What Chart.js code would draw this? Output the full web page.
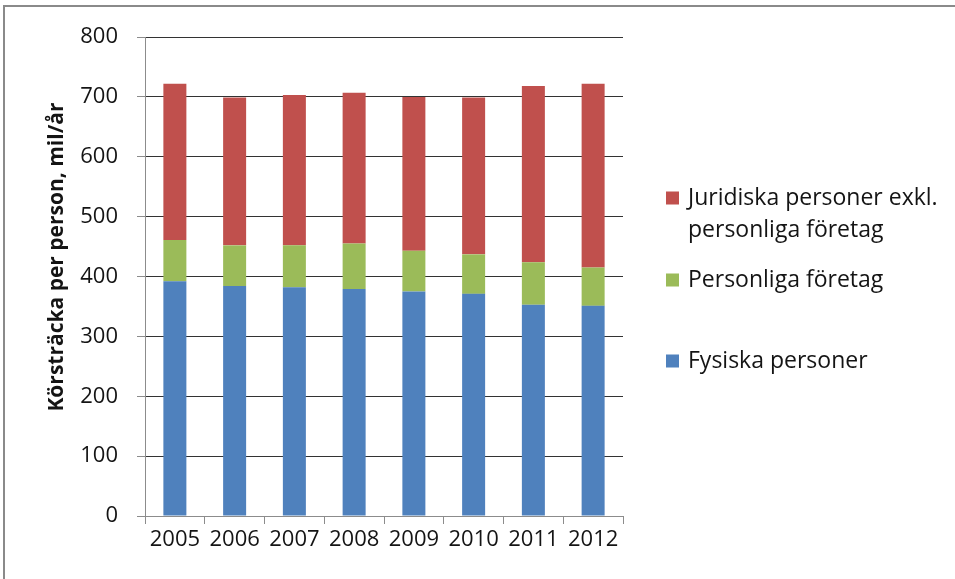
<!DOCTYPE html>
<html>
<head>
<meta charset="utf-8">
<script src="https://cdn.jsdelivr.net/npm/chart.js@4.4.0/dist/chart.umd.min.js"></script>
<style>
  html, body { margin: 0; padding: 0; background: #fff; }
  #wrap { width: 955px; height: 579px; position: relative; }
</style>
</head>
<body>
<div id="wrap"><canvas id="chart" width="955" height="579"></canvas></div>
<script>
// data
const years = ['2005', '2006', '2007', '2008', '2009', '2010', '2011', '2012'];
const fysiska = [392, 384, 382, 379, 375, 371, 353, 351];
const personliga = [69, 68, 70, 76, 68, 66, 71, 64];
const juridiska = [261, 247, 251, 252, 257, 262, 294, 307];
const seriesNames = ['Fysiska personer', 'Personliga företag', 'Juridiska personer exkl. personliga företag'];
const yTicks = [0, 100, 200, 300, 400, 500, 600, 700, 800];
const yTitle = 'Körsträcka per person, mil/år';

const FONT = '"Open Sans", "Liberation Sans", sans-serif';
const TEXT = '#141414';
const AXIS_GREY = '#8c8c8c';

// frame around the picture + white background
const framePlugin = {
  id: 'frame',
  beforeDraw(chart) {
    const ctx = chart.ctx;
    ctx.save();
    ctx.fillStyle = '#fff';
    ctx.fillRect(0, 0, chart.width, chart.height);
    ctx.strokeStyle = '#8a8a8a';
    ctx.lineWidth = 2;
    ctx.beginPath();
    ctx.moveTo(4, chart.height);
    ctx.lineTo(4, 6);
    ctx.lineTo(chart.width, 6);
    ctx.stroke();
    ctx.restore();
  }
};

// y axis title, placed like in the original
const titlePlugin = {
  id: 'ytitle',
  afterDraw(chart) {
    const ctx = chart.ctx;
    ctx.save();
    ctx.translate(57, 257);
    ctx.rotate(-Math.PI / 2);
    ctx.font = 'bold 21px ' + FONT;
    ctx.fillStyle = TEXT;
    ctx.textAlign = 'center';
    ctx.textBaseline = 'middle';
    ctx.fillText(yTitle, 0, 0);
    ctx.restore();
  }
};

// legend on the right, top entry first, wrapped text
const legendPlugin = {
  id: 'sideLegend',
  afterDraw(chart) {
    const ctx = chart.ctx;
    const rows = [198, 280, 361];
    const sets = chart.data.datasets.slice().reverse();
    ctx.save();
    ctx.font = '23px ' + FONT;
    ctx.textBaseline = 'middle';
    ctx.textAlign = 'left';
    sets.forEach((ds, i) => {
      const y = rows[i];
      ctx.fillStyle = ds.backgroundColor;
      ctx.fillRect(666, y - 6.5, 13, 13);
      // simple word wrap
      const words = ds.label.split(' ');
      const lines = [];
      let line = '';
      words.forEach(w => {
        const test = line ? line + ' ' + w : w;
        if (ctx.measureText(test).width > 265 && line) {
          lines.push(line);
          line = w;
        } else {
          line = test;
        }
      });
      lines.push(line);
      ctx.fillStyle = TEXT;
      lines.forEach((l, k) => ctx.fillText(l, 688, y + k * 32));
    });
    ctx.restore();
  }
};

new Chart(document.getElementById('chart'), {
  type: 'bar',
  data: {
    labels: years,
    datasets: [
      { label: seriesNames[0], data: fysiska, backgroundColor: '#4F81BD' },
      { label: seriesNames[1], data: personliga, backgroundColor: '#9BBB59' },
      { label: seriesNames[2], data: juridiska, backgroundColor: '#C0504D' }
    ]
  },
  options: {
    responsive: false,
    animation: false,
    layout: { padding: { top: 37, right: 332, bottom: 0, left: 0 } },
    datasets: {
      bar: { barPercentage: 0.385, categoryPercentage: 1, borderWidth: 0 }
    },
    plugins: {
      legend: { display: false },
      tooltip: { enabled: false }
    },
    scales: {
      x: {
        stacked: true,
        afterFit: (scale) => { scale.height = 63; },
        border: { color: AXIS_GREY, width: 1 },
        grid: {
          offset: true,
          drawOnChartArea: false,
          drawTicks: true,
          tickLength: 8,
          tickColor: AXIS_GREY
        },
        ticks: {
          color: TEXT,
          padding: 3,
          maxRotation: 0,
          font: { family: FONT, size: 22 }
        }
      },
      y: {
        stacked: true,
        min: 0,
        max: 800,
        afterFit: (scale) => { scale.width = 145; },
        afterBuildTicks: (scale) => { scale.ticks = yTicks.map(v => ({ value: v })); },
        border: { color: AXIS_GREY, width: 1 },
        grid: {
          color: (c) => c.tick && c.tick.value === 0 ? 'rgba(0,0,0,0)' : '#333333',
          lineWidth: 1,
          drawTicks: true,
          tickLength: 8,
          tickColor: AXIS_GREY
        },
        ticks: {
          color: TEXT,
          padding: 19,
          font: { family: FONT, size: 22 }
        }
      }
    }
  },
  plugins: [framePlugin, titlePlugin, legendPlugin]
});
</script>
</body>
</html>
